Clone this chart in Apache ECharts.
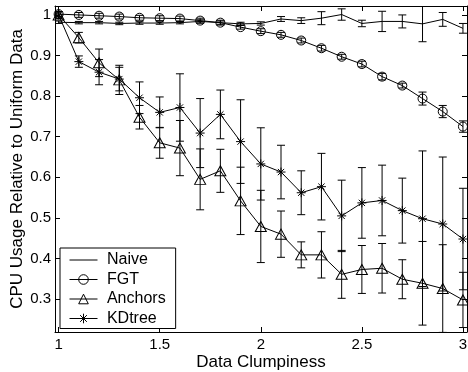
<!DOCTYPE html>
<html>
<head>
<meta charset="utf-8">
<script src="https://cdn.jsdelivr.net/npm/echarts@6/dist/echarts.min.js"></script>
<style>
  html, body { margin: 0; padding: 0; background: #fff; }
  #chart { width: 468px; height: 372px; }
</style>
</head>
<body>
<div id="chart"></div>
<script>
// clumpiness values on the x axis
const clumpiness = [1.0, 1.1, 1.2, 1.3, 1.4, 1.5, 1.6, 1.7, 1.8, 1.9, 2.0,
  2.1, 2.2, 2.3, 2.4, 2.5, 2.6, 2.7, 2.8, 2.9, 3.0];

// mean relative CPU usage per method, with error half-widths
const naive = [0.982, 0.981, 0.981, 0.979, 0.980, 0.980, 0.981, 0.984, 0.981, 0.978, 0.979,
  0.990, 0.986, 0.992, 1.001, 0.979, 0.984, 0.984, 0.978, 0.989, 0.967];
const naiveErr = [0.003, 0.003, 0.003, 0.003, 0.003, 0.003, 0.003, 0.004, 0.004, 0.004, 0.004,
  0.006, 0.007, 0.016, 0.014, 0.008, 0.025, 0.016, 0.044, 0.017, 0.012];

const fgt = [1.002, 1.000, 0.998, 0.996, 0.993, 0.992, 0.991, 0.986, 0.981, 0.970, 0.960,
  0.951, 0.937, 0.918, 0.897, 0.879, 0.848, 0.826, 0.794, 0.762, 0.725];
const fgtErr = [0.006, 0.006, 0.006, 0.006, 0.006, 0.006, 0.006, 0.006, 0.006, 0.005, 0.006,
  0.006, 0.006, 0.007, 0.006, 0.007, 0.008, 0.006, 0.016, 0.015, 0.014];

const anchors = [1.000, 0.944, 0.882, 0.840, 0.748, 0.685, 0.672, 0.595, 0.616, 0.542, 0.479,
  0.460, 0.409, 0.409, 0.361, 0.373, 0.376, 0.349, 0.339, 0.326, 0.298];
const anchorsErr = [0.008, 0.013, 0.034, 0.036, 0.029, 0.038, 0.068, 0.075, 0.053, 0.083, 0.089,
  0.057, 0.032, 0.057, 0.059, 0.059, 0.061, 0.048, 0.103, 0.108, 0.068];

const kdtree = [1.000, 0.885, 0.859, 0.842, 0.796, 0.760, 0.772, 0.709, 0.755, 0.688, 0.633,
  0.613, 0.562, 0.577, 0.505, 0.537, 0.543, 0.518, 0.498, 0.485, 0.448];
const kdtreeErr = [0.008, 0.014, 0.031, 0.029, 0.039, 0.038, 0.083, 0.085, 0.060, 0.103, 0.089,
  0.066, 0.054, 0.082, 0.088, 0.087, 0.087, 0.080, 0.167, 0.165, 0.125];

const xTicks = [1, 1.5, 2, 2.5, 3];
const yTicks = [0.3, 0.4, 0.5, 0.6, 0.7, 0.8, 0.9, 1];

const FONT = '"Liberation Sans", Arial, Helvetica, sans-serif';
const INK = '#000';

// asterisk marker: + and x overlaid
const STAR = 'path://M5,0L5,10M0,5L10,5M1.5,1.5L8.5,8.5M1.5,8.5L8.5,1.5';

function pairs(ys) {
  return clumpiness.map((x, i) => [x, ys[i]]);
}

function errRows(ys, errs) {
  return clumpiness.map((x, i) => [x, ys[i] - errs[i], ys[i] + errs[i]]);
}

// vertical bar with short caps at both ends
function renderErrBar(params, api) {
  const x = api.value(0);
  const lo = api.coord([x, api.value(1)]);
  const hi = api.coord([x, api.value(2)]);
  const w = 4;
  const st = { stroke: INK, lineWidth: 1 };
  return {
    type: 'group',
    children: [
      { type: 'line', shape: { x1: lo[0], y1: lo[1], x2: hi[0], y2: hi[1] }, style: st },
      { type: 'line', shape: { x1: lo[0] - w, y1: lo[1], x2: lo[0] + w, y2: lo[1] }, style: st },
      { type: 'line', shape: { x1: hi[0] - w, y1: hi[1], x2: hi[0] + w, y2: hi[1] }, style: st }
    ]
  };
}

function errSeries(name, ys, errs) {
  return {
    name: name + ' err',
    type: 'custom',
    renderItem: renderErrBar,
    data: errRows(ys, errs),
    clip: true,
    silent: true,
    z: 2
  };
}

function lineSeries(name, ys, symbol, size) {
  return {
    name: name,
    type: 'line',
    data: pairs(ys),
    symbol: symbol,
    symbolSize: size,
    showSymbol: symbol !== 'none',
    lineStyle: { color: INK, width: 1 },
    itemStyle: { color: 'transparent', borderColor: INK, borderWidth: 1 },
    clip: true,
    z: 3
  };
}

const xBase = {
  type: 'value',
  min: 0.982,
  max: 3.02,
  axisLine: { show: true, onZero: false, lineStyle: { color: INK, width: 1 } },
  axisTick: { show: true, inside: true, length: 5, customValues: xTicks, lineStyle: { color: INK } },
  splitLine: { show: false }
};

const yBase = {
  type: 'value',
  min: 0.219,
  max: 1.022,
  axisLine: { show: true, onZero: false, lineStyle: { color: INK, width: 1 } },
  axisTick: { show: true, inside: true, length: 5, customValues: yTicks, lineStyle: { color: INK } },
  splitLine: { show: false }
};

const chart = echarts.init(document.getElementById('chart'), null, { renderer: 'canvas' });

chart.setOption({
  animation: false,
  backgroundColor: '#fff',
  textStyle: { fontFamily: FONT },
  grid: { left: 55, right: 1, top: 6, bottom: 40, containLabel: false, outerBoundsMode: 'none' },
  xAxis: [
    Object.assign({}, xBase, {
      position: 'bottom',
      name: 'Data Clumpiness',
      nameLocation: 'middle',
      nameGap: 22,
      nameMoveOverlap: false,
      nameTextStyle: { color: INK, fontSize: 17, fontFamily: FONT },
      axisLabel: {
        customValues: xTicks, color: INK, fontSize: 15, fontFamily: FONT, margin: 5,
        formatter: v => String(v)
      }
    }),
    Object.assign({}, xBase, { position: 'top', axisLabel: { show: false } })
  ],
  yAxis: [
    Object.assign({}, yBase, {
      position: 'left',
      name: 'CPU Usage Relative to Uniform Data',
      nameLocation: 'middle',
      nameGap: 29,
      nameMoveOverlap: false,
      nameTextStyle: { color: INK, fontSize: 17, fontFamily: FONT },
      axisLabel: {
        customValues: yTicks, color: INK, fontSize: 15, fontFamily: FONT, margin: 4,
        formatter: v => (v === 1 ? '1' : v.toFixed(1))
      }
    }),
    Object.assign({}, yBase, { position: 'right', axisLabel: { show: false } })
  ],
  legend: {
    data: [
      { name: 'Naive', itemStyle: { borderColor: 'transparent', color: 'transparent' } },
      { name: 'FGT' },
      { name: 'Anchors' },
      { name: 'KDtree' }
    ],
    orient: 'vertical',
    left: 60,
    top: 248,
    padding: [4, 10, 2, 9],
    itemWidth: 28,
    itemHeight: 12,
    itemGap: 3.5,
    backgroundColor: '#fff',
    borderColor: INK,
    borderWidth: 1,
    borderRadius: 0,
    lineStyle: { width: 1 },
    itemStyle: { borderWidth: 1 },
    formatter: name => ' ' + name,
    textStyle: { color: INK, fontSize: 16, fontFamily: FONT, lineHeight: 16 }
  },
  series: [
    errSeries('Naive', naive, naiveErr),
    errSeries('FGT', fgt, fgtErr),
    errSeries('Anchors', anchors, anchorsErr),
    errSeries('KDtree', kdtree, kdtreeErr),
    lineSeries('Naive', naive, 'none', 0),
    lineSeries('FGT', fgt, 'circle', 9),
    lineSeries('Anchors', anchors, 'triangle', [11, 10]),
    lineSeries('KDtree', kdtree, STAR, 9)
  ]
});
</script>
</body>
</html>
